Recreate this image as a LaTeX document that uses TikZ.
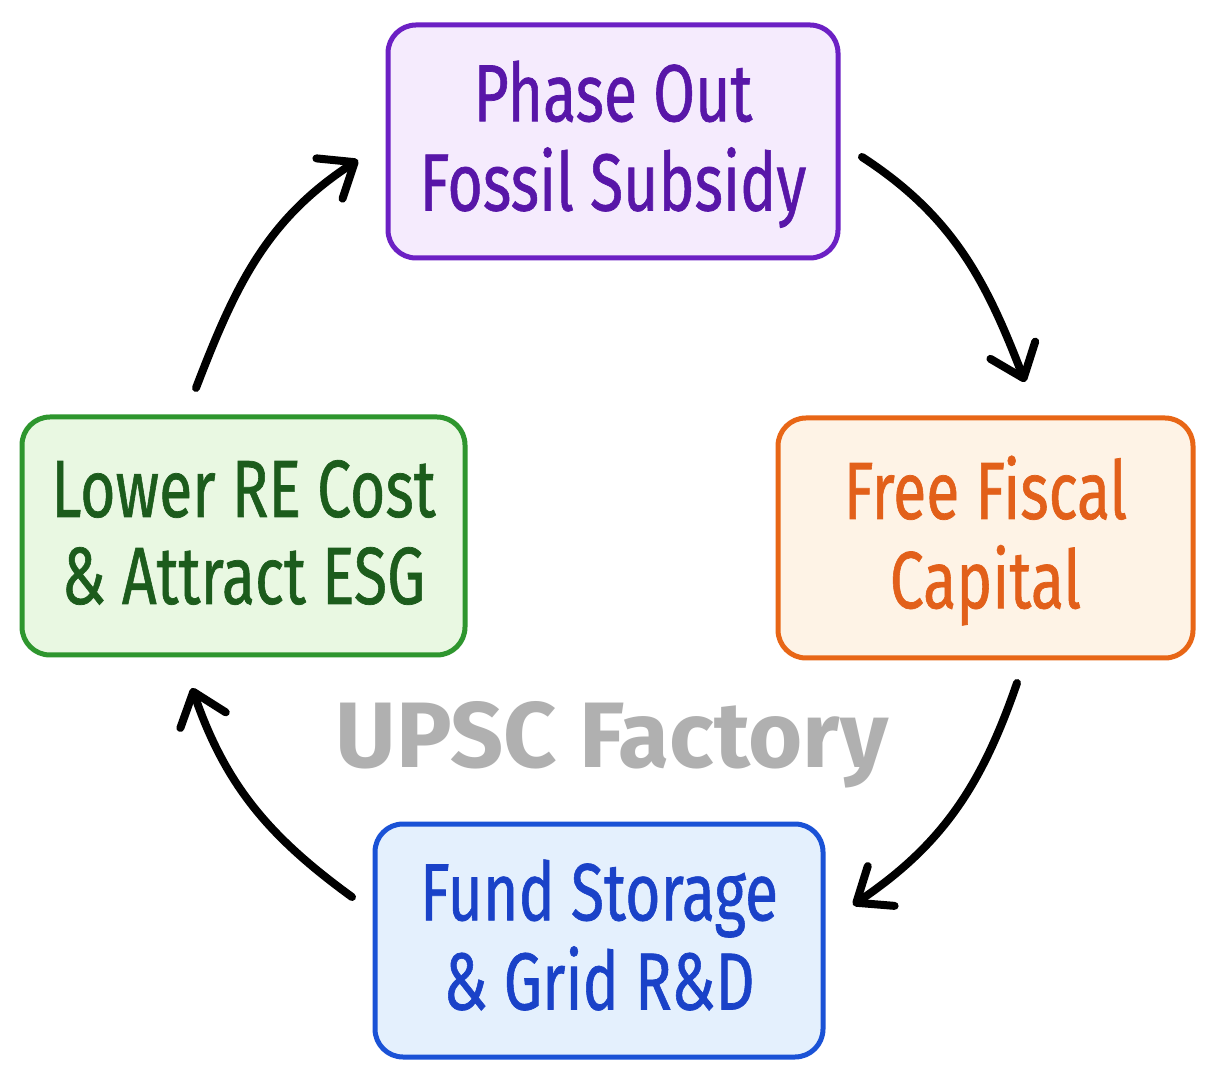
\documentclass[tikz,border=0pt]{standalone}
\usepackage{fontspec}
\setmainfont{Fira Sans}
\newfontfamily\boxfont{Fira Sans}[FakeBold=0.9]
\newfontfamily\wmfont{Fira Sans Bold}
\usetikzlibrary{arrows.meta}
\definecolor{pstroke}{RGB}{108,32,196}
\definecolor{pfill}{RGB}{245,235,253}
\definecolor{ptext}{RGB}{88,22,168}
\definecolor{ostroke}{RGB}{232,102,22}
\definecolor{ofill}{RGB}{254,243,230}
\definecolor{otext}{RGB}{226,96,26}
\definecolor{gstroke}{RGB}{46,150,46}
\definecolor{gfill}{RGB}{233,248,226}
\definecolor{gtext}{RGB}{28,92,28}
\definecolor{bstroke}{RGB}{26,82,214}
\definecolor{bfill}{RGB}{228,240,253}
\definecolor{btext}{RGB}{26,66,200}
\definecolor{wmgray}{RGB}{176,176,176}
\newcommand{\twolines}[2]{\raisebox{-7pt}[\height][\depth]{\scalebox{0.75}[1]{\fontsize{81}{87}\selectfont\boxfont\begin{tabular}{@{}c@{}}#1\\#2\end{tabular}}}}
\tikzset{
  cyclebox/.style={draw, rectangle, rounded corners=28pt, line width=5pt, inner sep=0pt},
  cyclearrow/.style={line width=8pt, line cap=round, black,
    -{Straight Barb[length=30pt,width=48pt,line cap=round,line join=round]}}
}
\begin{document}
\begin{tikzpicture}[x=1pt,y=1pt]
\useasboundingbox[fill=white] (0,0) rectangle (1217,1082);
% boxes (y measured upward: Y = 1082 - y)
\node[cyclebox, draw=pstroke, fill=pfill, text=ptext, minimum width=450pt, minimum height=233pt] (p) at (613,940.5)
  {\twolines{Phase Out}{Fossil Subsidy}};
\node[cyclebox, draw=ostroke, fill=ofill, text=otext, minimum width=415pt, minimum height=240pt] (o) at (985.5,544)
  {\twolines{Free Fiscal}{Capital}};
\node[cyclebox, draw=gstroke, fill=gfill, text=gtext, minimum width=443pt, minimum height=238pt] (g) at (243.5,546)
  {\twolines{Lower RE Cost}{\& Attract ESG}};
\node[cyclebox, draw=bstroke, fill=bfill, text=btext, minimum width=448pt, minimum height=233pt] (b) at (599,141.5)
  {\twolines{Fund Storage}{\& Grid R\&D}};
% watermark
\node[text=wmgray, inner sep=0pt] (wm) at (612,337) {\fontsize{93}{100}\selectfont\wmfont UPSC Factory};
% arrow end points
\coordinate (a1s) at (862,925);
\coordinate (a1e) at (1025,700);
\coordinate (a2s) at (1017,399);
\coordinate (a2e) at (853,177);
\coordinate (a3s) at (352,185);
\coordinate (a3e) at (192,394);
\coordinate (a4s) at (196,694);
\coordinate (a4e) at (358,922);
\draw[cyclearrow] (a1s) to[out=-33, in=111] (a1e);
\draw[cyclearrow] (a2s) to[out=-109, in=34] (a2e);
\draw[cyclearrow] (a3s) to[out=144, in=-71] (a3e);
\draw[cyclearrow] (a4s) to[out=69, in=213] (a4e);
\end{tikzpicture}
\end{document}
